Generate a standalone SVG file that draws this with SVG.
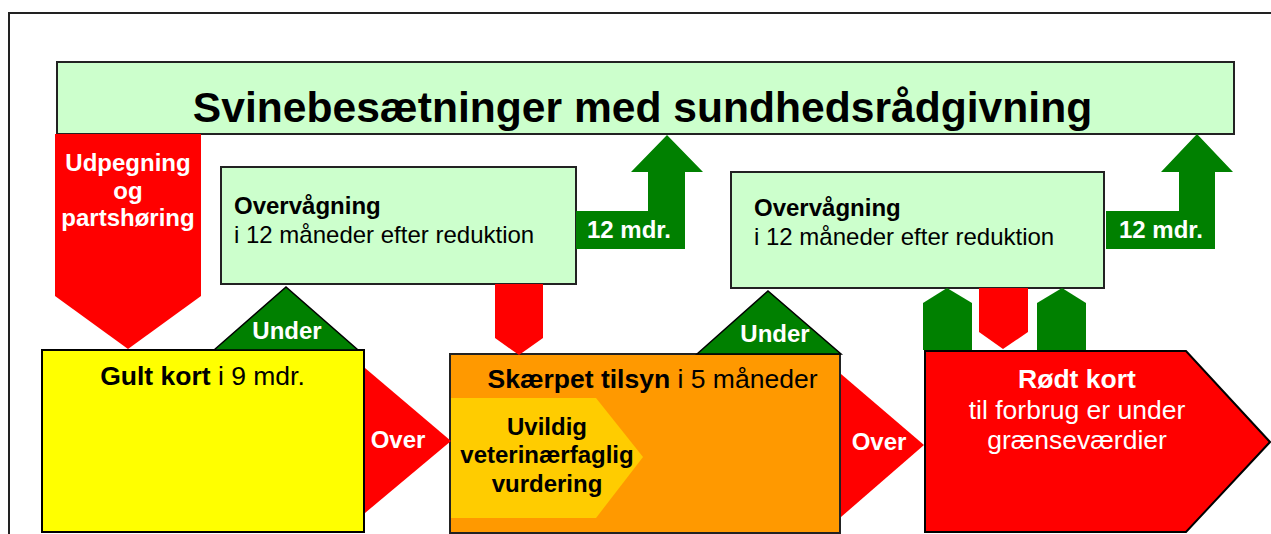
<svg xmlns="http://www.w3.org/2000/svg" width="1271" height="534" viewBox="0 0 1271 534">
<style>
text{font-family:"Liberation Sans",Arial,sans-serif;}
.b{font-weight:bold;}
.s{font-size:24px;}
.m{font-size:26.5px;}
.w{fill:#ffffff;}
.k{fill:#000000;}
.box{stroke:#222222;stroke-width:2;}
.lg{fill:#CCFFCC;}
.g{fill:#008000;}
.r{fill:#FF0000;}
.tri{stroke:#000000;stroke-width:1.5;stroke-linejoin:miter;}
</style>
<rect x="9" y="13" width="1300" height="600" fill="#ffffff" stroke="#222222" stroke-width="2"/>

<g id="title">
<rect class="box lg" x="57" y="62" width="1177" height="72"/>
<text class="b k" x="642.5" y="122" font-size="42.6" text-anchor="middle">Svinebesætninger med sundhedsrådgivning</text>
</g>

<g id="udpegning">
<polygon class="r" points="55,134 201,134 201,296 128,349 55,296"/>
<text class="b w s" text-anchor="middle"><tspan x="128" y="171">Udpegning</tspan><tspan x="128" y="199">og</tspan><tspan x="128" y="226">partshøring</tspan></text>
</g>

<g id="overvaagning1">
<rect class="box lg" x="221" y="167" width="355" height="117"/>
<text class="k s" x="234"><tspan class="b" y="214">Overvågning</tspan><tspan x="234" y="243">i 12 måneder efter reduktion</tspan></text>
</g>

<g id="overvaagning2">
<rect class="box lg" x="731" y="172" width="373" height="116"/>
<text class="k s" x="754"><tspan class="b" y="216">Overvågning</tspan><tspan x="754" y="245">i 12 måneder efter reduktion</tspan></text>
</g>

<g id="gult-kort">
<rect fill="#FFFF00" stroke="#000000" stroke-width="2" x="42" y="350" width="322" height="182"/>
<text class="k m" x="202.5" y="385" text-anchor="middle"><tspan class="b">Gult kort</tspan> i 9 mdr.</text>
</g>

<g id="skaerpet-tilsyn">
<rect fill="#FF9900" stroke="#222222" stroke-width="2" x="450" y="354" width="390" height="179"/>
<text class="k m" x="652.5" y="388" text-anchor="middle"><tspan class="b">Skærpet tilsyn</tspan> i 5 måneder</text>
</g>

<g id="uvildig">
<polygon fill="#FFCC00" points="451,398 596,398 643,457 596,518 451,518"/>
<text class="b k s" text-anchor="middle"><tspan x="547" y="435">Uvildig</tspan><tspan x="547" y="463">veterinærfaglig</tspan><tspan x="547" y="492">vurdering</tspan></text>
</g>

<g id="roedt-kort">
<polygon class="r" stroke="#000000" stroke-width="2" points="925,351 1186,351 1270,442 1186,532 925,532"/>
<text class="w m" text-anchor="middle"><tspan class="b" x="1077" y="388">Rødt kort</tspan><tspan x="1077" y="419">til forbrug er under</tspan><tspan x="1077" y="449">grænseværdier</tspan></text>
</g>

<g id="connectors">
<g id="mdr1">
<polygon class="g" points="576,211 648,211 648,172 631,172 667,135 703,172 685,172 685,249 576,249"/>
<text class="b w s" x="629" y="238" text-anchor="middle">12 mdr.</text>
</g>
<g id="mdr2">
<polygon class="g" points="1106,211 1179,211 1179,172 1161,172 1197,134 1233,172 1215,172 1215,249 1106,249"/>
<text class="b w s" x="1161" y="238" text-anchor="middle">12 mdr.</text>
</g>
<g id="under1">
<polygon class="g tri" points="214,350 286,287 358,350"/>
<text class="b w s" x="287" y="339" text-anchor="middle">Under</text>
</g>
<g id="under2">
<polygon class="g tri" points="697,354 768,291 841,354"/>
<text class="b w s" x="775" y="342" text-anchor="middle">Under</text>
</g>
<g id="over1">
<polygon class="r" points="365,368 451,441 365,513"/>
<text class="b w s" x="398" y="448" text-anchor="middle">Over</text>
</g>
<g id="over2">
<polygon class="r" points="841,374 924,445 841,517"/>
<text class="b w s" x="879" y="450" text-anchor="middle">Over</text>
</g>
<polygon id="down1" class="r" points="495,284 543,284 543,338 519,355 495,338"/>
<polygon id="up-left" class="g" points="923,350 923,303 947,288 972,303 972,350"/>
<polygon id="down2" class="r" points="979,288 1028,288 1028,332 1003,349 979,332"/>
<polygon id="up-right" class="g" points="1037,350 1037,303 1062,288 1086,303 1086,350"/>
</g>
</svg>
